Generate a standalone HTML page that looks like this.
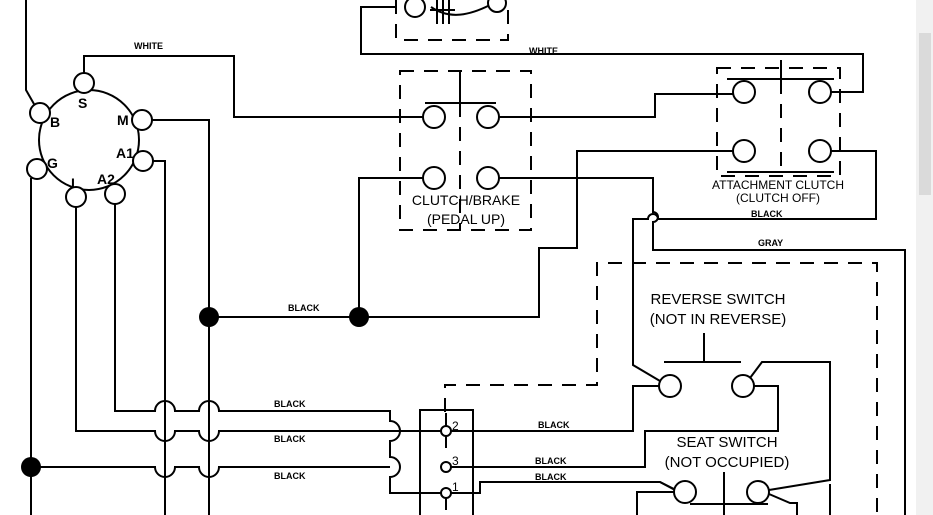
<!DOCTYPE html>
<html><head><meta charset="utf-8"><style>
html,body{margin:0;padding:0;background:#fff;}
svg{display:block;}
text{font-family:"Liberation Sans",Arial,sans-serif;fill:#000;}
.s{font-size:9px;font-weight:bold;}
.m{font-size:12px;}
.l{font-size:15px;}
</style></head><body>
<svg width="933" height="515" viewBox="0 0 933 515" xmlns="http://www.w3.org/2000/svg">
<g fill="none" stroke="#000" stroke-width="2">
<circle cx="89" cy="140" r="50"/>
</g>
<g fill="#fff" stroke="#000" stroke-width="2">
<circle cx="84" cy="83" r="10"/>
<circle cx="40" cy="113" r="10"/>
<circle cx="142" cy="120" r="10"/>
<circle cx="143" cy="161" r="10"/>
<circle cx="115" cy="194" r="10"/>
<circle cx="76" cy="197" r="10"/>
<circle cx="37" cy="169" r="10"/>
</g>
<g font-weight="bold">
<text x="78" y="108" style="font-size:14px">S</text>
<text x="50" y="127" style="font-size:14px">B</text>
<text x="117" y="125" style="font-size:14px">M</text>
<text x="116" y="158" style="font-size:14px">A1</text>
<text x="97" y="184" style="font-size:14px">A2</text>
<text x="71" y="188" style="font-size:14px">L</text>
<text x="47" y="168" style="font-size:14px">G</text>
</g>
<g fill="none" stroke="#000" stroke-width="2">
<path d="M26 0 V90 L34 104"/>
<path d="M31 178 V515"/>
<path d="M31 467 H155 a10 10 0 0 0 20 0 H199 a10 10 0 0 0 20 0 H390"/>
<path d="M84 73 V56 H234 V117 H423"/>
<path d="M152 120 H209 V515"/>
<path d="M153 161 H165 V515"/>
<path d="M115 204 V411 H155 a10 10 0 0 1 20 0 H199 a10 10 0 0 1 20 0 H390 V421 a10 10 0 0 1 0 20 V457 a10 10 0 0 1 0 20 V493 H441"/>
<path d="M76 207 V431 H155 a10 10 0 0 0 20 0 H199 a10 10 0 0 0 20 0 H441"/>
<path d="M451 431 H633 V386 H659"/>
<path d="M451 467 H645 V431 H778 V386 H754"/>
<path d="M451 493 H480 V482 H660 L675 490"/>
<path d="M420 515 V410 H473 V515"/>
<path d="M446 413 V426 M446 436 V448 M446 498 V510"/>
<path d="M209 317 H359 V178 H423"/>
<path d="M359 317 H539 V248 H577 V151 H733"/>
<path d="M499 117 H655 V94 H733"/>
<path d="M499 178 H653 V212 a5 5 0 0 1 0 10 V250 H905 V515"/>
<path d="M395 7 H361 V54 H863 V92 H831"/>
<path d="M831 151 H876 V219 H658 a5 5 0 0 0 -10 0 H633 V365 L660 381"/>
<path d="M750 378 L762 362 H830 V480 L769 490"/>
<path d="M769 494 L790 503 H797 V515"/>
<path d="M674 489 L660 482"/>
<path d="M674 492 H637 V515"/>
<path d="M830 484 V515"/>
<path d="M425 103 H496 M460 71 V103"/>
<path d="M727 79 H834 M781 60 V80 M727 172 H834"/>
<path d="M704 333 V362 M664 362 H741"/>
<path d="M724 472 V515 M690 504 H768"/>
<path d="M431 7 C450 20 470 15 490 5"/>
<path d="M437 0 V24 M443 0 V24 M449 0 V24 M430 10 H455"/>
</g>
<g fill="#fff" stroke="#000" stroke-width="2">
<circle cx="415" cy="7" r="10"/>
<circle cx="497" cy="3" r="9"/>
<circle cx="434" cy="117" r="11"/>
<circle cx="488" cy="117" r="11"/>
<circle cx="434" cy="178" r="11"/>
<circle cx="488" cy="178" r="11"/>
<circle cx="744" cy="92" r="11"/>
<circle cx="820" cy="92" r="11"/>
<circle cx="744" cy="151" r="11"/>
<circle cx="820" cy="151" r="11"/>
<circle cx="670" cy="386" r="11"/>
<circle cx="743" cy="386" r="11"/>
<circle cx="685" cy="492" r="11"/>
<circle cx="758" cy="492" r="11"/>
<circle cx="446" cy="431" r="5"/>
<circle cx="446" cy="467" r="5"/>
<circle cx="446" cy="493" r="5"/>
</g>
<g fill="#000">
<circle cx="209" cy="317" r="10"/>
<circle cx="359" cy="317" r="10"/>
<circle cx="31" cy="467" r="10"/>
</g>
<g fill="none" stroke="#000" stroke-width="2" stroke-dasharray="14,10">
<path d="M396 0 V40 H508 V0"/>
<path d="M400 71 H531 V230 H400 Z"/>
<path d="M460 103 V230"/>
<path d="M717 68 H840 V176 H717 Z"/>
<path d="M781 80 V176"/>
<path d="M445 412 V385 H597 V263 H877 V515"/>
</g>
<text x="134" y="49" class="s">WHITE</text>
<text x="529" y="54" class="s">WHITE</text>
<text x="288" y="311" class="s">BLACK</text>
<text x="274" y="407" class="s">BLACK</text>
<text x="274" y="442" class="s">BLACK</text>
<text x="274" y="479" class="s">BLACK</text>
<text x="538" y="428" class="s">BLACK</text>
<text x="535" y="464" class="s">BLACK</text>
<text x="535" y="480" class="s">BLACK</text>
<text x="751" y="217" class="s">BLACK</text>
<text x="758" y="246" class="s">GRAY</text>
<text x="452" y="430" class="m">2</text>
<text x="452" y="465" class="m">3</text>
<text x="452" y="491" class="m">1</text>
<text x="466" y="205" text-anchor="middle" style="font-size:14px">CLUTCH/BRAKE</text>
<text x="466" y="224" text-anchor="middle" style="font-size:14px">(PEDAL UP)</text>
<text x="778" y="189" class="m" text-anchor="middle">ATTACHMENT CLUTCH</text>
<text x="778" y="202" class="m" text-anchor="middle">(CLUTCH OFF)</text>
<text x="718" y="304" class="l" text-anchor="middle">REVERSE SWITCH</text>
<text x="718" y="324" class="l" text-anchor="middle">(NOT IN REVERSE)</text>
<text x="727" y="447" class="l" text-anchor="middle">SEAT SWITCH</text>
<text x="727" y="467" class="l" text-anchor="middle">(NOT OCCUPIED)</text>
<rect x="916" y="0" width="17" height="515" fill="#f1f1f1"/>
<rect x="919" y="33" width="12" height="162" fill="#dadada"/>
</svg>
</body></html>
